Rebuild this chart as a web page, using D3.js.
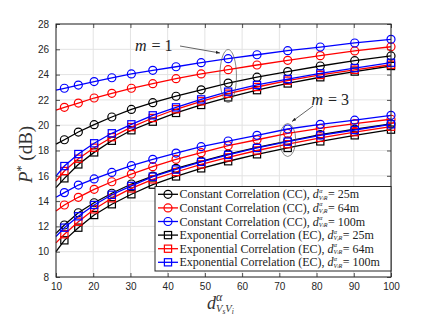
<!DOCTYPE html>
<html><head><meta charset="utf-8">
<script src="https://cdn.jsdelivr.net/npm/d3@7"></script>
<style>body{margin:0;background:#fff}svg{display:block}text{white-space:pre}</style>
</head><body>
<svg id="c" width="432" height="316"></svg>
<script>
// ---- data ----
const xVals = [10, 12.25, 16, 20.25, 25, 30.25, 36, 42.25, 49, 56.25, 64, 72.25, 81, 90.25, 100];
const xTicks = [10, 20, 30, 40, 50, 60, 70, 80, 90, 100];
const yTicks = [8, 10, 12, 14, 16, 18, 20, 22, 24, 26, 28];
// m = 1
const cc25_m1  = [18.50, 18.85, 19.46, 20.04, 20.65, 21.25, 21.78, 22.29, 22.80, 23.33, 23.80, 24.24, 24.68, 25.10, 25.48];
const cc64_m1  = [21.20, 21.41, 21.75, 22.15, 22.52, 22.92, 23.28, 23.68, 24.05, 24.39, 24.76, 25.13, 25.50, 25.87, 26.20];
const cc100_m1 = [22.78, 22.92, 23.17, 23.45, 23.75, 24.05, 24.34, 24.62, 24.94, 25.26, 25.57, 25.89, 26.18, 26.50, 26.79];
const ec25_m1  = [15.06, 15.80, 16.90, 17.85, 18.77, 19.60, 20.28, 20.97, 21.60, 22.20, 22.77, 23.30, 23.79, 24.24, 24.68];
const ec64_m1  = [15.59, 16.38, 17.35, 18.22, 19.05, 19.85, 20.57, 21.26, 21.89, 22.49, 23.02, 23.52, 23.97, 24.38, 24.78];
const ec100_m1 = [15.98, 16.77, 17.72, 18.57, 19.36, 20.07, 20.78, 21.41, 22.04, 22.65, 23.18, 23.65, 24.10, 24.52, 24.94];
// m = 3
const cc25_m3  = [11.45, 12.11, 13.08, 13.87, 14.62, 15.35, 15.98, 16.59, 17.15, 17.72, 18.25, 18.75, 19.25, 19.68, 20.10];
const cc64_m3  = [13.22, 13.69, 14.30, 14.93, 15.53, 16.14, 16.72, 17.30, 17.83, 18.38, 18.85, 19.35, 19.75, 20.12, 20.47];
const cc100_m3 = [14.30, 14.67, 15.27, 15.75, 16.27, 16.80, 17.30, 17.80, 18.30, 18.75, 19.20, 19.70, 20.07, 20.40, 20.78];
const ec25_m3  = [10.00, 10.90, 11.90, 12.90, 13.75, 14.54, 15.30, 15.95, 16.59, 17.15, 17.70, 18.20, 18.72, 19.20, 19.65];
const ec64_m3  = [10.70, 11.38, 12.37, 13.35, 14.22, 15.00, 15.72, 16.30, 16.90, 17.45, 18.00, 18.50, 19.00, 19.45, 19.88];
const ec100_m3 = [11.20, 11.90, 12.80, 13.69, 14.50, 15.20, 15.93, 16.50, 17.10, 17.65, 18.20, 18.70, 19.20, 19.62, 20.07];

const seriesColors = ["#000000", "#ff0000", "#0000ff"];
const legendPrefix = ["Constant Correlation (CC), ", "Exponential Correlation (EC), "];
const legendDist = ["25m", "64m", "100m"];

// ---- setup ----
const svg = d3.select("#c");
svg.append("rect").attr("width", 432).attr("height", 316).attr("fill", "#fff");
const L = 56, R = 391, T = 24, B = 277;
const x = d3.scaleLinear().domain([10, 100]).range([L, R]);
const y = d3.scaleLinear().domain([8, 28]).range([B, T]);
const SERIF = "'Liberation Serif','DejaVu Serif',serif";
const SANS = "'Liberation Sans',Arial,sans-serif";

// grid
const grid = svg.append("g");
grid.selectAll("line.gx").data(xTicks).join("line")
  .attr("x1", d => x(d)).attr("x2", d => x(d)).attr("y1", T).attr("y2", B)
  .attr("stroke", "#e3e3e3").attr("stroke-width", 1);
grid.selectAll("line.gy").data(yTicks).join("line")
  .attr("y1", d => y(d)).attr("y2", d => y(d)).attr("x1", L).attr("x2", R)
  .attr("stroke", "#e3e3e3").attr("stroke-width", 1);

// axes
const ax = svg.append("g").attr("transform", `translate(0,${B})`)
  .call(d3.axisBottom(x).tickValues(xTicks).tickSizeInner(-4).tickSizeOuter(0).tickPadding(6));
const ay = svg.append("g").attr("transform", `translate(${L},0)`)
  .call(d3.axisLeft(y).tickValues(yTicks).tickSizeInner(-4).tickSizeOuter(0).tickPadding(7));
const axT = svg.append("g").attr("transform", `translate(0,${T})`)
  .call(d3.axisTop(x).tickValues(xTicks).tickSizeInner(-4).tickSizeOuter(0).tickFormat(""));
const ayR = svg.append("g").attr("transform", `translate(${R},0)`)
  .call(d3.axisRight(y).tickValues(yTicks).tickSizeInner(-4).tickSizeOuter(0).tickFormat(""));
[ax, ay, axT, ayR].forEach(g => {
  g.select(".domain").remove();
  g.selectAll("line").attr("stroke", "#262626").attr("stroke-width", 0.8);
  g.selectAll("text").attr("font-family", SANS).attr("font-size", 10).attr("fill", "#262626");
});

// series
const groups = [
  [cc25_m1, cc64_m1, cc100_m1, ec25_m1, ec64_m1, ec100_m1],
  [cc25_m3, cc64_m3, cc100_m3, ec25_m3, ec64_m3, ec100_m3]
];
const line = d3.line().x((d, i) => x(xVals[i])).y(d => y(d));
const plot = svg.append("g");
function marker(g, shape, cx, cy, color) {
  if (shape === "circle") {
    g.append("circle").attr("cx", cx).attr("cy", cy).attr("r", 4)
      .attr("fill", "none").attr("stroke", color).attr("stroke-width", 1.2);
  } else {
    g.append("rect").attr("x", cx - 3.6).attr("y", cy - 3.6).attr("width", 7.2).attr("height", 7.2)
      .attr("fill", "none").attr("stroke", color).attr("stroke-width", 1.2);
  }
}
groups.forEach(grp => {
  grp.forEach((vals, k) => {
    const color = seriesColors[k % 3];
    const shape = k < 3 ? "circle" : "square";
    plot.append("path").attr("d", line(vals)).attr("fill", "none")
      .attr("stroke", color).attr("stroke-width", 1.3);
    vals.forEach((v, i) => { if (i > 0) marker(plot, shape, x(xVals[i]), y(v), color); });
  });
});

// frame
svg.append("rect").attr("x", L).attr("y", T).attr("width", R - L).attr("height", B - T)
  .attr("fill", "none").attr("stroke", "#262626").attr("stroke-width", 1);

// rich text helper: positioned tspans inside one <text>
function newText(parent, color) {
  return parent.append("text").attr("font-family", SERIF).attr("fill", color || "#000");
}
function rich(txt, x0, y0, pieces) {
  let cx = x0, mark = x0, maxX = x0;
  pieces.forEach(p => {
    if (p.mark) mark = cx;
    if (p.back) cx = mark;
    if (p.resume) cx = maxX;
    if (p.gap) cx += p.gap;
    const t = txt.append("tspan").attr("x", cx).attr("y", y0 + (p.dy || 0))
      .attr("font-size", p.s).attr("font-style", p.it ? "italic" : "normal")
      .text(p.t);
    cx += t.node().getComputedTextLength();
    if (p.gapAfter) cx += p.gapAfter;
    maxX = Math.max(maxX, cx);
  });
  return txt;
}

// annotations
const ann = svg.append("g");
ann.append("ellipse").attr("cx", x(56.25)).attr("cy", 76).attr("rx", 8.3).attr("ry", 26.5)
  .attr("fill", "none").attr("stroke", "#555").attr("stroke-width", 0.7);
ann.append("ellipse").attr("cx", x(72.25)).attr("cy", 140).attr("rx", 8).attr("ry", 16.5)
  .attr("fill", "none").attr("stroke", "#555").attr("stroke-width", 0.7);
svg.append("defs").append("marker").attr("id", "ah").attr("viewBox", "0 0 10 10")
  .attr("refX", 10).attr("refY", 5).attr("markerWidth", 6).attr("markerHeight", 6)
  .attr("orient", "auto").append("path").attr("d", "M0,1.5 L10,5 L0,8.5 Z").attr("fill", "#222");
ann.append("line").attr("x1", 180).attr("y1", 46).attr("x2", 220).attr("y2", 53)
  .attr("stroke", "#222").attr("stroke-width", 0.7).attr("marker-end", "url(#ah)");
ann.append("line").attr("x1", 313).attr("y1", 106).attr("x2", 292).attr("y2", 121.5)
  .attr("stroke", "#222").attr("stroke-width", 0.7).attr("marker-end", "url(#ah)");
rich(newText(ann, "#222"), 135, 50.5, [{t: "m", s: 16, it: true, gapAfter: 5}, {t: "=", s: 16, gapAfter: 4}, {t: "1", s: 16}]);
rich(newText(ann, "#222"), 311.5, 105, [{t: "m", s: 16, it: true, gapAfter: 5}, {t: "=", s: 16, gapAfter: 4}, {t: "3", s: 16}]);

// legend
const lg = svg.append("g");
lg.append("rect").attr("x", 155).attr("y", 186.5).attr("width", R - 155).attr("height", 84.5)
  .attr("fill", "#fff").attr("stroke", "#262626").attr("stroke-width", 1);
for (let r = 0; r < 6; r++) {
  const ry = 194.3 + r * 13.6;
  const color = seriesColors[r % 3];
  lg.append("line").attr("x1", 158).attr("x2", 178).attr("y1", ry).attr("y2", ry)
    .attr("stroke", color).attr("stroke-width", 1.3);
  marker(lg, r < 3 ? "circle" : "square", 168, ry, color);
  rich(newText(lg, "#222"), 179.5, ry + 4, [
    {t: legendPrefix[r < 3 ? 0 : 1], s: 12},
    {t: "d", s: 12, it: true},
    {t: "α", s: 6.1, it: true, dy: -5.5, mark: true, gap: 0.3},
    {t: "V", s: 6.1, it: true, dy: 1.3, back: true},
    {t: "i", s: 4.5, it: true, dy: 1.6},
    {t: "R", s: 6.1, it: true, dy: 1.3},
    {t: "= " + legendDist[r % 3], s: 12, resume: true, gap: 0.5}
  ]);
}

// axis labels
const xl = svg.append("g");
rich(newText(xl, "#333"), 207, 308.5, [
  {t: "d", s: 18, it: true},
  {t: "α", s: 12, it: true, dy: -8, mark: true},
  {t: "V", s: 10.5, it: true, dy: 3.5, back: true},
  {t: "s", s: 7.5, it: true, dy: 5},
  {t: "V", s: 10.5, it: true, dy: 3.5},
  {t: "i", s: 7.5, it: true, dy: 5}
]);
const yl = svg.append("g").attr("transform", "translate(32,183) rotate(-90)");
rich(newText(yl, "#333"), 0, 0, [
  {t: "P", s: 19, it: true},
  {t: "*", s: 12, dy: -7},
  {t: " (dB)", s: 19}
]);
</script>
</body></html>
